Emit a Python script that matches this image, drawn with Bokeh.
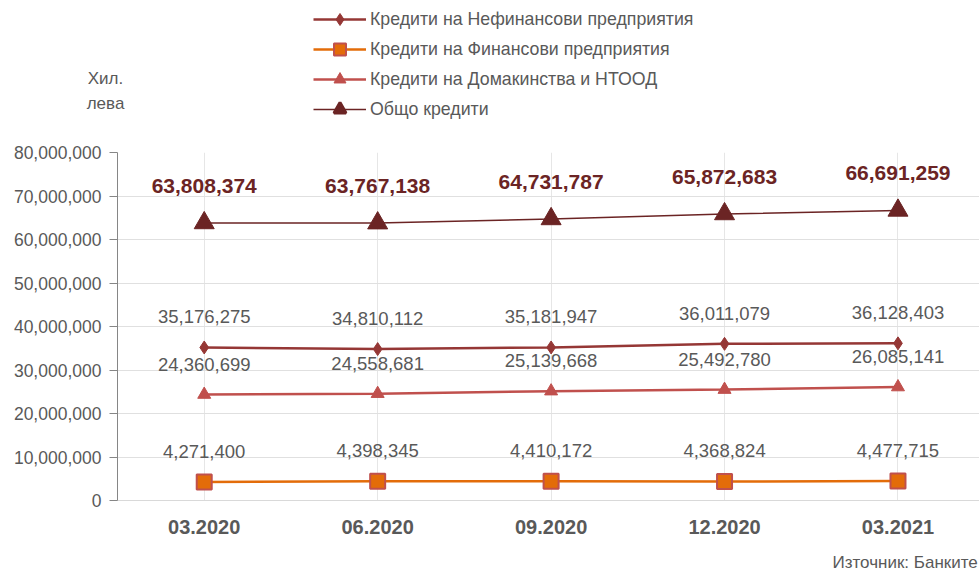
from bokeh.plotting import figure
from bokeh.models import (ColumnDataSource, Range1d, LabelSet, Legend, LegendItem,
                          Label, FixedTicker, NumeralTickFormatter)
from bokeh.layouts import column
from bokeh.core.properties import value
from bokeh.embed import file_html
from bokeh.resources import INLINE

categories = ["03.2020", "06.2020", "09.2020", "12.2020", "03.2021"]
nonfinancial = [35176275, 34810112, 35181947, 36011079, 36128403]
financial = [4271400, 4398345, 4410172, 4368824, 4477715]
households = [24360699, 24558681, 25139668, 25492780, 26085141]
total = [63808374, 63767138, 64731787, 65872683, 66691259]
y_ticks = [0, 10000000, 20000000, 30000000, 40000000, 50000000, 60000000, 70000000, 80000000]

names = ["Кредити на Нефинансови предприятия", "Кредити на Финансови предприятия",
         "Кредити на Домакинства и НТООД", "Общо кредити"]
unit_lines = ["Хил.", "лева"]
source_text = "Източник: Банките"

FONT = "Liberation Sans"
GREY = "#595959"

c_nonfin = "#953735"
c_fin = "#e36c09"
c_hh = "#c0504d"
c_tot = "#6b2424"

xs = list(range(len(categories)))

def fmt(v):
    return f"{v:,}"

src = ColumnDataSource(dict(
    x=xs, nonfin=nonfinancial, fin=financial, hh=households, tot=total,
    nonfin_t=[fmt(v) for v in nonfinancial], fin_t=[fmt(v) for v in financial],
    hh_t=[fmt(v) for v in households], tot_t=[fmt(v) for v in total],
))

W = 979
HEAD_H = 140
MAIN_H = 405
FOOT_H = 570 - HEAD_H - MAIN_H


def bare(h):
    f = figure(width=W, height=h, output_backend="svg", toolbar_location=None,
               x_range=Range1d(0, 1), y_range=Range1d(0, 1),
               min_border=0, min_border_left=0, min_border_right=0,
               min_border_top=0, min_border_bottom=0)
    f.axis.visible = False
    f.grid.visible = False
    f.outline_line_color = None
    try:
        f.frame_align = False
    except Exception:
        pass
    return f

# ---------------- header (legend + unit) ----------------
head = bare(HEAD_H)
# legend-only renderers (their single point lies outside the visible range)
off = dict(x=[-10], y=[-10])
h1 = head.line(line_color=c_nonfin, line_width=2.5, **off)
hm1 = head.scatter(marker="diamond", fill_color=c_nonfin, line_color=c_nonfin, **off)
h2 = head.line(line_color=c_fin, line_width=2.5, **off)
hm2 = head.scatter(marker="square", fill_color=c_fin, line_color=c_hh, line_width=2, **off)
h3 = head.line(line_color=c_hh, line_width=2.5, **off)
hm3 = head.scatter(marker="triangle", fill_color=c_hh, line_color=c_hh, **off)
h4 = head.line(line_color=c_tot, line_width=1.5, **off)
hm4 = head.scatter(marker="triangle", fill_color=c_tot, line_color=c_tot, line_width=3, **off)

legend = Legend(items=[
    LegendItem(label=names[0], renderers=[h1, hm1]),
    LegendItem(label=names[1], renderers=[h2, hm2]),
    LegendItem(label=names[2], renderers=[h3, hm3]),
    LegendItem(label=names[3], renderers=[h4, hm4]),
], location=(313, 16), orientation="vertical")
legend.label_text_font = FONT
legend.label_text_font_size = "17.75px"
legend.label_text_color = GREY
legend.glyph_width = 53
legend.glyph_height = 30
legend.label_height = 30
legend.label_standoff = 4
legend.spacing = 0
legend.padding = 0
legend.margin = 0
legend.border_line_color = None
legend.background_fill_alpha = 0
head.add_layout(legend, "center")

for txt, y in zip(unit_lines, [62, 37]):
    head.add_layout(Label(x=105, y=y, x_units="screen", y_units="screen", text=txt,
                          text_align="center", text_baseline="middle",
                          text_font=FONT, text_font_size="17px", text_color=GREY))

# ---------------- main chart ----------------
p = figure(width=W, height=MAIN_H, output_backend="svg", toolbar_location=None,
           x_range=Range1d(-0.5, 4.47), y_range=Range1d(0, 80000000),
           min_border_left=117, min_border_right=0, min_border_top=12, min_border_bottom=45)
p.outline_line_color = None

p.xaxis.ticker = FixedTicker(ticks=xs)
p.xaxis.major_label_overrides = {i: c for i, c in enumerate(categories)}
p.xaxis.major_label_text_font = FONT
p.xaxis.major_label_text_font_size = "20px"
p.xaxis.major_label_text_font_style = "bold"
p.xaxis.major_label_text_color = GREY
p.xaxis.major_label_standoff = 13
p.xaxis.axis_line_color = "#d9d9d9"
p.xaxis.major_tick_line_color = None
p.xaxis.minor_tick_line_color = None

p.yaxis.ticker = FixedTicker(ticks=y_ticks)
p.yaxis.formatter = NumeralTickFormatter(format="0,0")
p.yaxis.major_label_text_font = FONT
p.yaxis.major_label_text_font_size = "17.5px"
p.yaxis.major_label_text_color = GREY
p.yaxis.axis_line_color = "#868686"
p.yaxis.major_tick_line_color = "#868686"
p.yaxis.major_tick_out = 8
p.yaxis.major_tick_in = 0
p.yaxis.minor_tick_line_color = None
p.yaxis.major_label_standoff = 8

p.xgrid.grid_line_color = "#e6e6e6"
p.ygrid.grid_line_color = "#e0e0e0"

p.line("x", "nonfin", source=src, line_color=c_nonfin, line_width=2.5)
p.scatter("x", "nonfin", source=src, marker="diamond", size=13, fill_color=c_nonfin, line_color=c_nonfin)

p.line("x", "fin", source=src, line_color=c_fin, line_width=2.5)
p.scatter("x", "fin", source=src, marker="square", size=15, fill_color=c_fin, line_color=c_hh, line_width=2)

p.line("x", "hh", source=src, line_color=c_hh, line_width=2.5)
p.scatter("x", "hh", source=src, marker="triangle", size=13, fill_color=c_hh, line_color=c_hh)

p.line("x", "tot", source=src, line_color=c_tot, line_width=1.5)
p.scatter("x", "tot", source=src, marker="triangle", size=20, fill_color=c_tot, line_color=c_tot)

for field, col, yoff, color, size, style in [
    ("nonfin", "nonfin_t", 24, GREY, "18.5px", "normal"),
    ("fin", "fin_t", 24, GREY, "18.5px", "normal"),
    ("hh", "hh_t", 24, GREY, "18.5px", "normal"),
    ("tot", "tot_t", 30, c_tot, "21px", "bold"),
]:
    p.add_layout(LabelSet(x="x", y=field, text=col, source=src, y_offset=yoff,
                          text_align="center", text_baseline="bottom",
                          text_color=color, text_font_size=value(size),
                          text_font=value(FONT), text_font_style=value(style)))

# ---------------- footer (source) ----------------
foot = bare(FOOT_H)
foot.add_layout(Label(x=832, y=8, x_units="screen", y_units="screen", text=source_text,
                      text_align="left", text_baseline="middle",
                      text_font=FONT, text_font_size="17px", text_color=GREY))

layout = column(head, p, foot, spacing=0)
open("out.html", "w").write(file_html(layout, INLINE))
